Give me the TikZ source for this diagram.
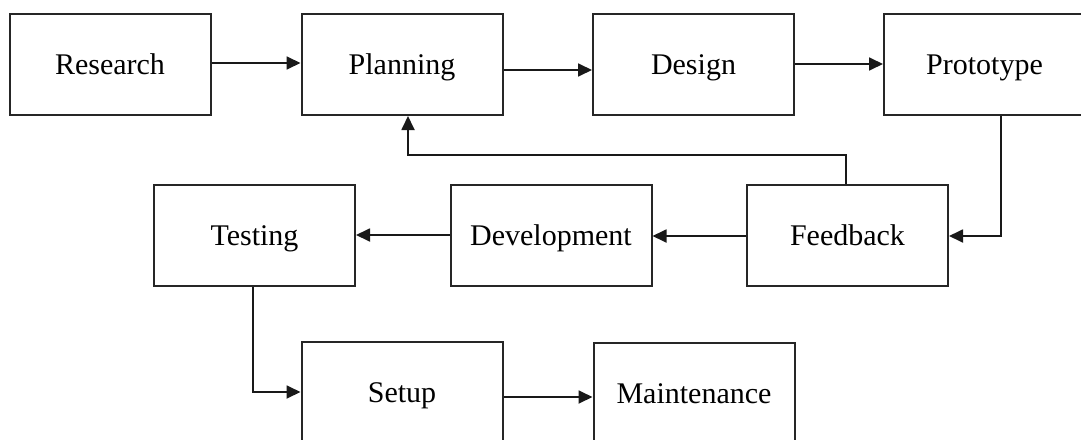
\documentclass[tikz,border=0pt]{standalone}
\usepackage{fontspec}
\setmainfont{Liberation Serif}
\usetikzlibrary{arrows.meta}
\begin{document}
\begin{tikzpicture}[x=0.5pt,y=-0.5pt,
  box/.style={draw=black!85, line width=1pt, fill=white, inner sep=0pt,
    minimum width=100.5pt, minimum height=50.5pt,
    font=\fontsize{15}{18}\selectfont, text height=10pt, text depth=0pt},
  conn/.style={draw=black!90, line width=0.9pt, -{Triangle[length=7pt,width=6.5pt]}}]
\useasboundingbox (0,0) rectangle (1081,439);
\clip (0,0) rectangle (1081,439);
\fill[white] (0,0) rectangle (1081,439);
\node[box] (research) at (110,64.5) {Research};
\node[box] (planning) at (402,64.5) {Planning};
\node[box] (design) at (693.5,64.5) {Design};
\node[box] (prototype) at (984.5,64.5) {Prototype};
\node[box] (testing) at (254.5,235) {Testing};
\node[box] (development) at (551,235) {Development};
\node[box] (feedback) at (847.5,235) {Feedback};
\node[box] (setup) at (402,392.5) {Setup};
\node[box] (maintenance) at (694,393) {Maintenance};
\coordinate (fbturn) at (846,155);
\coordinate (plturn) at (408,155);
\coordinate (prturn) at (1001,236);
\coordinate (teturn) at (253,392);
\draw[conn] (research.east |- 0,63) -- (planning.west |- 0,63);
\draw[conn] (planning.east |- 0,70) -- (design.west |- 0,70);
\draw[conn] (design.east |- 0,64) -- (prototype.west |- 0,64);
\draw[conn] (prototype.south -| prturn) -- (prturn) -- (feedback.east |- prturn);
\draw[conn] (feedback.north -| fbturn) -- (fbturn) -- (plturn) -- (planning.south -| plturn);
\draw[conn] (feedback.west |- 0,236) -- (development.east |- 0,236);
\draw[conn] (development.west |- 0,235) -- (testing.east |- 0,235);
\draw[conn] (testing.south -| teturn) -- (teturn) -- (setup.west |- teturn);
\draw[conn] (setup.east |- 0,397) -- (maintenance.west |- 0,397);
\end{tikzpicture}
\end{document}
